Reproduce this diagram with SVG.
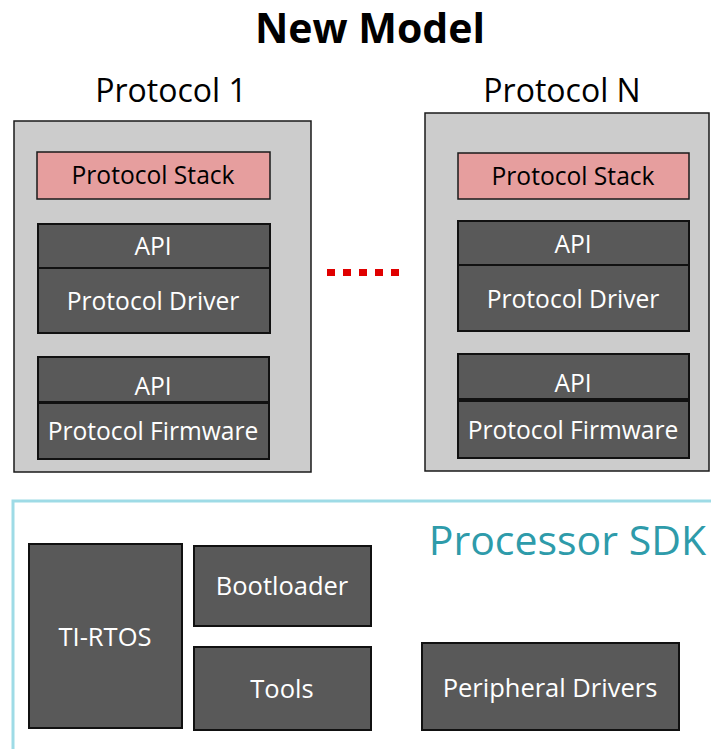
<svg xmlns="http://www.w3.org/2000/svg" width="711" height="749" viewBox="0 0 711 749">
<style>
text{font-family:"Open Sans","Liberation Sans",sans-serif;text-anchor:middle}
.outer{fill:#cccccc;stroke:#1a1a1a;stroke-width:1.5}
.stack{fill:#e69e9e;stroke:#1a1a1a;stroke-width:1.5}
.dark{fill:#595959;stroke:#111;stroke-width:2}
.lbl{font-size:24.6px;fill:#ffffff}
.big{font-size:25.5px;fill:#ffffff}
.blk{font-size:24.6px;fill:#000000}
.head{font-size:32px;fill:#000}
</style>
<rect width="711" height="749" fill="#fff"/>
<text x="370" y="43" style="font-size:41px;font-weight:bold;fill:#000">New Model</text>
<text class="head" x="171" y="102">Protocol 1</text>
<text class="head" x="562" y="102">Protocol N</text>

<g id="protocol1">
<rect class="outer" x="14" y="121" width="297" height="351"/>
<g id="p1-stack"><rect class="stack" x="37" y="152" width="233" height="47"/><text class="blk" x="153" y="184">Protocol Stack</text></g>
<g id="p1-api1"><rect class="dark" x="38" y="224" width="232" height="44"/><text class="lbl" x="153" y="255">API</text></g>
<g id="p1-driver"><rect class="dark" x="38" y="268" width="232" height="65"/><text class="lbl" x="153" y="310">Protocol Driver</text></g>
<g id="p1-api2"><rect class="dark" x="38" y="357" width="231" height="45"/><text class="lbl" x="153" y="395">API</text></g>
<g id="p1-firmware"><rect class="dark" x="38" y="403" width="231" height="56"/><text class="lbl" x="153" y="440">Protocol Firmware</text></g>
</g>

<g id="protocolN">
<rect class="outer" x="425" y="113" width="284" height="358"/>
<g id="pN-stack"><rect class="stack" x="458" y="153" width="231" height="46"/><text class="blk" x="573" y="185">Protocol Stack</text></g>
<g id="pN-api1"><rect class="dark" x="458" y="221" width="231" height="44"/><text class="lbl" x="573" y="253">API</text></g>
<g id="pN-driver"><rect class="dark" x="458" y="265" width="231" height="66"/><text class="lbl" x="573" y="308">Protocol Driver</text></g>
<g id="pN-api2"><rect class="dark" x="458" y="354" width="231" height="45"/><text class="lbl" x="573" y="392">API</text></g>
<g id="pN-firmware"><rect class="dark" x="458" y="401" width="231" height="57"/><text class="lbl" x="573" y="439">Protocol Firmware</text></g>
</g>

<g id="connectors">
<line x1="327" y1="272.5" x2="399" y2="272.5" stroke="#e00000" stroke-width="7" stroke-dasharray="8 8"/>
</g>

<g id="sdk">
<path d="M13,749 V501 H711" fill="none" stroke="#9edbe6" stroke-width="3"/>
<text x="706" y="555" style="font-size:41px;fill:#2e9baa;text-anchor:end">Processor SDK</text>
<g id="tirtos"><rect class="dark" x="29" y="544" width="153" height="184"/><text class="big" x="105" y="646">TI-RTOS</text></g>
<g id="bootloader"><rect class="dark" x="194" y="546" width="177" height="80"/><text class="big" x="282" y="595">Bootloader</text></g>
<g id="tools"><rect class="dark" x="194" y="647" width="177" height="83"/><text class="big" x="282" y="698">Tools</text></g>
<g id="peripheral"><rect class="dark" x="422" y="643" width="257" height="87"/><text class="big" x="550" y="697">Peripheral Drivers</text></g>
</g>
</svg>
